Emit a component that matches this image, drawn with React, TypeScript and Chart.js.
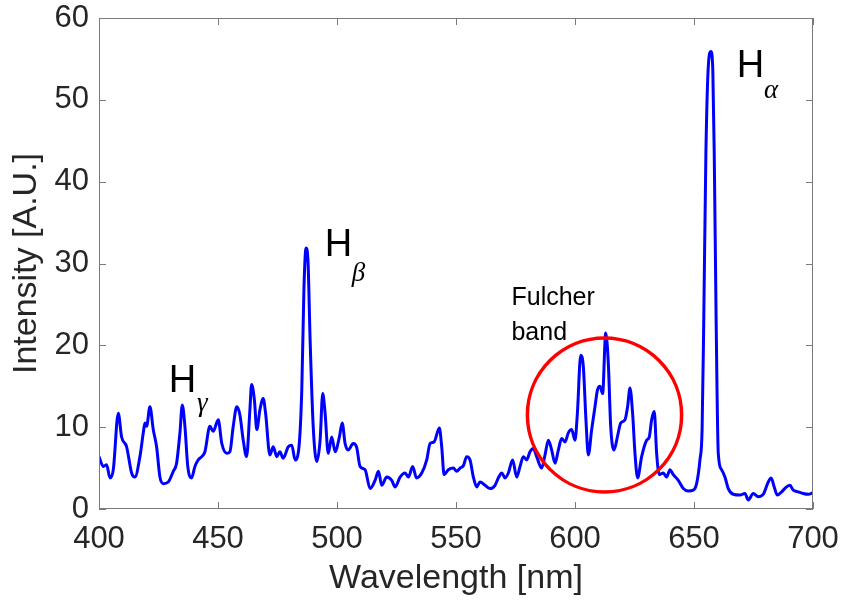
import React, { useEffect, useRef } from "react";
import { Chart, registerables } from "chart.js";

Chart.register(...registerables);

// ---- data ----
const wavelengths = [
  400.0, 401.8, 403.2, 404.6, 406.0, 408.1, 409.5, 411.6, 413.7, 415.1, 417.2, 418.6, 419.3, 420.0,
  421.4, 422.8, 424.2, 425.6, 427.0, 429.1, 431.2, 432.6, 434.0, 435.0, 436.1, 437.3, 438.9, 440.3,
  441.7, 443.2, 444.5, 446.6, 448.0, 450.1, 451.6, 453.7, 455.0, 456.4, 457.9, 459.2, 460.6, 462.0,
  463.4, 464.1, 465.3, 466.3, 467.6, 469.0, 470.0, 471.8, 473.2, 474.7, 476.0, 477.4, 479.5, 481.0,
  482.4, 483.7, 485.2, 486.1, 487.0, 487.8, 488.7, 490.0, 491.5, 492.9, 494.0, 495.0, 496.3, 497.8,
  499.2, 501.0, 502.2, 503.4, 504.7, 506.8, 508.2, 509.7, 511.8, 513.9, 516.0, 517.4, 518.8, 520.9,
  523.0, 524.4, 526.5, 528.6, 530.0, 531.8, 533.4, 535.6, 537.7, 539.1, 540.8, 543.0, 544.0, 545.0,
  546.8, 548.9, 550.3, 551.7, 553.1, 554.5, 555.9, 557.3, 558.7, 560.1, 562.2, 564.3, 566.4, 567.8,
  569.2, 570.6, 572.0, 573.8, 575.5, 576.9, 578.3, 579.7, 581.1, 582.5, 583.9, 586.0, 587.4, 588.8,
  590.2, 591.6, 593.0, 594.4, 595.8, 597.2, 598.6, 600.0, 601.0, 602.4, 603.5, 604.6, 605.6, 607.0,
  608.4, 609.4, 610.5, 611.6, 612.9, 614.0, 615.0, 616.4, 617.8, 619.2, 621.0, 622.1, 623.1, 624.2,
  625.2, 626.3, 628.0, 630.1, 631.2, 632.2, 633.3, 634.3, 635.4, 637.1, 638.5, 639.9, 641.3, 643.4,
  645.5, 647.6, 649.7, 651.1, 652.5, 653.4, 654.1, 655.0, 656.1, 657.1, 657.9, 658.5, 659.3, 660.2,
  661.6, 663.0, 664.4, 666.5, 669.3, 671.4, 672.8, 674.9, 677.0, 679.1, 681.2, 682.4, 683.7, 685.0,
  686.8, 688.9, 690.3, 691.7, 693.8, 695.9, 698.0, 700.0,
];

const intensities = [
  6.4, 5.2, 5.4, 3.8, 4.8, 11.7, 8.8, 7.6, 4.4, 3.9, 6.4, 9.3, 10.5, 10.1,
  12.5, 9.7, 7.6, 3.9, 3.1, 3.3, 4.6, 5.6, 9.3, 12.7, 10.1, 5.2, 3.8, 5.2,
  6.0, 6.4, 7.0, 10.1, 9.5, 10.9, 8.0, 6.8, 7.0, 10.1, 12.5, 11.5, 8.4, 6.4,
  12.1, 15.2, 13.3, 9.7, 12.1, 13.5, 11.7, 6.6, 7.6, 6.4, 7.0, 6.2, 7.6, 7.8,
  6.0, 6.8, 14.5, 26.8, 31.9, 30.4, 20.7, 10.1, 5.8, 8.4, 14.1, 11.7, 6.8, 8.8,
  7.0, 8.8, 10.5, 8.0, 7.2, 8.0, 7.6, 5.2, 4.8, 2.5, 3.5, 4.6, 2.9, 3.9,
  3.5, 2.7, 3.9, 4.4, 3.9, 5.2, 3.8, 4.4, 6.0, 8.0, 8.2, 9.9, 7.6, 4.2,
  4.8, 5.0, 4.6, 5.0, 5.3, 6.4, 6.0, 3.9, 2.7, 3.3, 2.9, 2.5, 2.9, 3.8,
  4.4, 3.8, 4.4, 6.0, 3.9, 5.2, 6.4, 6.0, 7.0, 7.4, 6.4, 5.0, 6.6, 8.4,
  7.2, 5.6, 7.2, 8.6, 8.2, 9.3, 9.7, 8.4, 11.7, 18.8, 17.4, 10.9, 6.6, 9.7,
  12.5, 14.5, 15.0, 14.1, 21.5, 17.8, 10.1, 7.2, 8.8, 10.5, 10.9, 12.5, 14.8, 11.7,
  6.8, 3.8, 6.4, 8.4, 8.8, 10.9, 11.9, 6.8, 4.2, 4.4, 3.9, 4.8, 4.2, 3.5,
  2.5, 2.2, 2.3, 3.1, 6.0, 9.7, 23.1, 43.5, 54.5, 55.9, 53.7, 43.5, 23.1, 6.8,
  4.8, 3.9, 2.5, 1.8, 1.7, 1.9, 1.1, 1.9, 1.5, 1.8, 3.3, 3.8, 2.7, 1.7,
  2.1, 2.7, 2.9, 2.3, 2.1, 1.9, 1.8, 2.0,
];

const xTickValues = [400, 450, 500, 550, 600, 650, 700];
const yTickValues = [0, 10, 20, 30, 40, 50, 60];
const xTitle = "Wavelength [nm]";
const yTitle = "Intensity [A.U.]";

// Emission line labels (H with Greek subscript), anchored in data coordinates
const lineMain = ["H", "H", "H"];
const lineSub = ["\u03b3", "\u03b2", "\u03b1"];
const lineMainX = [429.3, 494.9, 668.0];
const lineMainY = [14.3, 30.9, 52.8];
const lineSubX = [441.2, 506.2, 679.4];
const lineSubY = [12.0, 27.9, 50.2];

// Fulcher band note and circle
const bandText = ["Fulcher", "band"];
const bandTextX = [573.3, 573.3];
const bandTextY = [24.9, 20.65];
const circleCenter = [612.4, 11.49];
const circleRadius = [32.4, 9.4]; // [nm, intensity units]

const SANS = 'Arial, "Liberation Sans", sans-serif';
const SERIF = '"Times New Roman", "Liberation Serif", serif';

export default function App() {
  const ref = useRef<HTMLCanvasElement>(null);

  useEffect(() => {
    const canvas = ref.current;
    if (!canvas) return;

    const decorate = {
      id: "decorate",
      afterDatasetsDraw(chart: any) {
        const { ctx, chartArea } = chart;
        const xs = chart.scales.x;
        const ys = chart.scales.y;
        const { left, right, top, bottom } = chartArea;
        ctx.save();

        // box
        ctx.strokeStyle = "#7a7a7a";
        ctx.lineWidth = 1;
        ctx.strokeRect(left + 0.5, top + 0.5, right - left - 1, bottom - top - 1);

        // inward ticks on all four sides
        const tl = 7;
        ctx.beginPath();
        xTickValues.forEach((v) => {
          const px = Math.round(xs.getPixelForValue(v)) + 0.5;
          ctx.moveTo(px, bottom);
          ctx.lineTo(px, bottom - tl);
          ctx.moveTo(px, top);
          ctx.lineTo(px, top + tl);
        });
        yTickValues.forEach((v) => {
          const py = Math.round(ys.getPixelForValue(v)) + 0.5;
          ctx.moveTo(left, py);
          ctx.lineTo(left + tl, py);
          ctx.moveTo(right, py);
          ctx.lineTo(right - tl, py);
        });
        ctx.stroke();

        // Fulcher circle
        const cx = xs.getPixelForValue(circleCenter[0]);
        const cy = ys.getPixelForValue(circleCenter[1]);
        const rx = Math.abs(xs.getPixelForValue(circleCenter[0] + circleRadius[0]) - cx);
        const ry = Math.abs(ys.getPixelForValue(circleCenter[1] + circleRadius[1]) - cy);
        ctx.beginPath();
        ctx.ellipse(cx, cy, rx, ry, 0, 0, Math.PI * 2);
        ctx.strokeStyle = "#ff0000";
        ctx.lineWidth = 3.5;
        ctx.stroke();

        // Line labels
        ctx.fillStyle = "#000000";
        ctx.textAlign = "left";
        ctx.textBaseline = "alphabetic";
        lineMain.forEach((t, i) => {
          ctx.font = `38px ${SANS}`;
          ctx.fillText(t, xs.getPixelForValue(lineMainX[i]), ys.getPixelForValue(lineMainY[i]));
          ctx.font = `italic 27px ${SERIF}`;
          ctx.fillText(lineSub[i], xs.getPixelForValue(lineSubX[i]), ys.getPixelForValue(lineSubY[i]));
        });

        ctx.font = `25px ${SANS}`;
        bandText.forEach((t, i) => {
          ctx.fillText(t, xs.getPixelForValue(bandTextX[i]), ys.getPixelForValue(bandTextY[i]));
        });

        ctx.restore();
      },
    };

    const chart = new Chart(canvas, {
      type: "line",
      data: {
        datasets: [
          {
            data: wavelengths.map((x, i) => ({ x, y: intensities[i] })),
            borderColor: "#0000ff",
            borderWidth: 3,
            pointRadius: 0,
            cubicInterpolationMode: "monotone",
            borderJoinStyle: "round",
            fill: false,
          },
        ],
      },
      options: {
        responsive: false,
        animation: false,
        events: [],
        layout: { padding: { top: 18, right: 31, bottom: 0, left: 0 } },
        plugins: {
          legend: { display: false },
          tooltip: { enabled: false },
        },
        scales: {
          x: {
            type: "linear",
            min: 400,
            max: 700,
            afterBuildTicks: (s: any) => {
              s.ticks = xTickValues.map((v) => ({ value: v }));
            },
            afterFit: (s: any) => {
              s.height = 103;
              s.paddingLeft = 0;
              s.paddingRight = 0;
            },
            grid: { display: false, drawTicks: false },
            border: { display: false },
            ticks: {
              autoSkip: false,
              maxRotation: 0,
              padding: 12,
              color: "#262626",
              font: { family: SANS, size: 31 },
            },
            title: {
              display: true,
              text: xTitle,
              color: "#262626",
              font: { family: SANS, size: 34 },
              padding: { top: 0, bottom: 13 },
            },
          },
          y: {
            type: "linear",
            min: 0,
            max: 60,
            afterBuildTicks: (s: any) => {
              s.ticks = yTickValues.map((v) => ({ value: v }));
            },
            afterFit: (s: any) => {
              s.width = 99;
              s.paddingTop = 0;
              s.paddingBottom = 0;
            },
            grid: { display: false, drawTicks: false },
            border: { display: false },
            ticks: {
              autoSkip: false,
              padding: 10,
              color: "#262626",
              font: { family: SANS, size: 31 },
            },
            title: {
              display: true,
              text: yTitle,
              color: "#262626",
              font: { family: SANS, size: 34 },
              padding: { top: 6, bottom: 0 },
            },
          },
        },
      },
      plugins: [decorate],
    } as any);

    return () => chart.destroy();
  }, []);

  return (
    <div style={{ position: "fixed", left: 0, top: 0, width: 844, height: 612, background: "#ffffff" }}>
      <canvas ref={ref} width={844} height={612} style={{ display: "block" }} />
    </div>
  );
}
